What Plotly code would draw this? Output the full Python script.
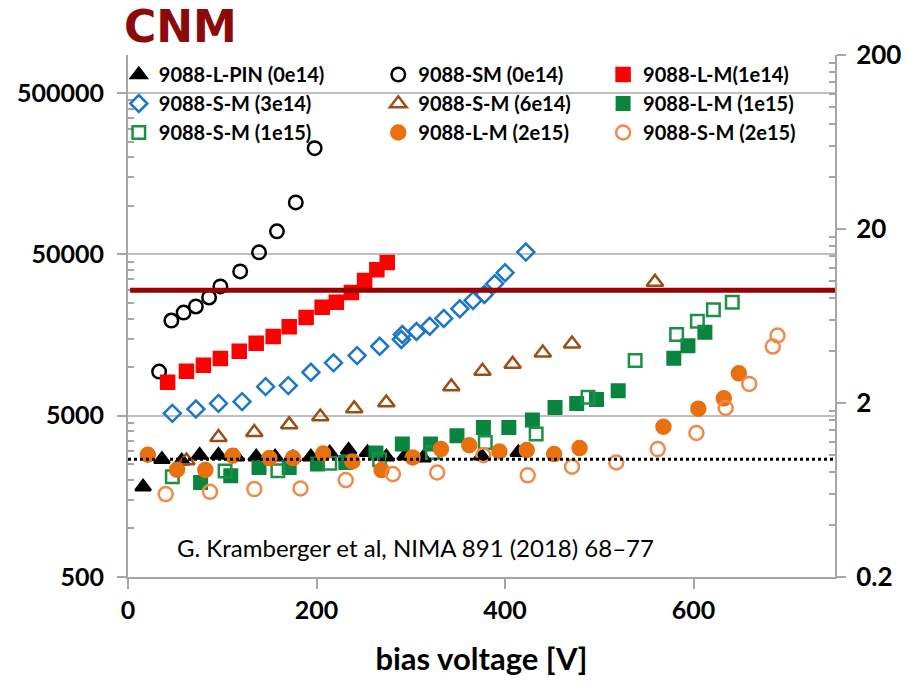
import plotly.graph_objects as go

# ---------------- data (bias voltage [V], left-axis value) ----------------
pin_v = [16, 36, 57, 76, 96, 115, 136, 156, 175, 194, 214, 234, 254, 274, 294, 313, 375, 414]
pin_q = [1811, 2684, 2627, 2850, 2850, 2782, 2782, 2782, 2754, 2782, 2945, 3060, 2958, 2782, 2822, 2742, 2822, 2958]

sm0_v = [33, 46, 59, 72, 86, 98, 119, 139, 158, 178, 198]
sm0_q = [9380, 19450, 21800, 23770, 27030, 31640, 39200, 51500, 69500, 105000, 227600]

lm1e14_v = [42, 62, 80, 98, 118, 136, 154, 171, 189, 206, 221, 237, 251, 264, 275]
lm1e14_q = [8050, 9420, 10270, 11300, 12540, 14060, 15480, 17780, 20300, 23530, 25270, 29030, 34480, 40170, 44600]

sm3e14_v = [47, 72, 96, 121, 146, 170, 194, 218, 243, 267, 290, 291, 306, 320, 335, 352, 366, 378, 389, 400, 422]
sm3e14_q = [5170, 5500, 5960, 6110, 7570, 7680, 9290, 10630, 11790, 13470, 14830, 15930, 16630, 17930,
            20030, 23000, 25890, 28220, 32890, 38480, 51660]

sm6e14_v = [62, 96, 134, 171, 204, 240, 274, 343, 376, 408, 440, 471, 559]
sm6e14_q = [2630, 3670, 3940, 4400, 4930, 5530, 6020, 7570, 9450, 10440, 12260, 13940, 33640]

lm1e15_v = [77, 109, 139, 171, 201, 231, 263, 291, 321, 349, 377, 404, 429, 453, 476, 497, 520, 579, 594, 612]
lm1e15_q = [1930, 2120, 2390, 2390, 2510, 2560, 2940, 3340, 3340, 3760, 4230, 4230, 4700, 5630, 5960, 6310,
            7150, 11350, 13550, 16460]

sm1e15_v = [47, 103, 159, 214, 267, 323, 379, 433, 488, 538, 582, 604, 621, 641]
sm1e15_q = [2090, 2270, 2275, 2535, 2666, 2958, 3412, 3848, 6497, 10980, 15930, 19270, 22670, 25270]

lm2e15_v = [21, 52, 82, 111, 150, 175, 207, 238, 269, 302, 332, 362, 394, 423, 452, 479, 568, 605, 632, 648]
lm2e15_q = [2862, 2310, 2305, 2822, 2730, 2730, 2916, 2601, 2300, 2754, 3105, 3279, 3000, 3060, 2891, 3150,
            4272, 5525, 6405, 9157]

sm2e15_v = [40, 87, 134, 183, 231, 281, 328, 377, 424, 471, 518, 562, 603, 634, 659, 684, 689]
sm2e15_q = [1633, 1686, 1753, 1768, 1994, 2172, 2222, 2842, 2135, 2411, 2564, 3105, 3904, 5580, 7868, 13415, 15700]

red_line_level = 30000      # left axis
dotted_line_level = 0.95    # right axis

left_ticks = [500, 5000, 50000, 500000]
right_ticks = [0.2, 2, 20, 200]
right_ticklabels = ["0.2", "2", "20", "200"]
x_ticks = [0, 200, 400, 600]

# ---------------- styling ----------------
FONT = "Lato"
AX = "#A6A6A6"

series = [
    ("9088-L-PIN (0e14)", pin_v, pin_q, "triangle-up", "#000000", 13.5, "legend"),
    ("9088-SM (0e14)", sm0_v, sm0_q, "circle-open", "#000000", 13.5, "legend2"),
    ("9088-L-M(1e14)", lm1e14_v, lm1e14_q, "square", "#FF0000", 13, "legend3"),
    ("9088-S-M (3e14)", sm3e14_v, sm3e14_q, "diamond-open", "#1B76C9", 13, "legend"),
    ("9088-S-M (6e14)", sm6e14_v, sm6e14_q, "triangle-up-open", "#9E4E14", 14.5, "legend2"),
    ("9088-L-M (1e15)", lm1e15_v, lm1e15_q, "square", "#0A8540", 12.5, "legend3"),
    ("9088-S-M (1e15)", sm1e15_v, sm1e15_q, "square-open", "#1C9146", 12.5, "legend"),
    ("9088-L-M (2e15)", lm2e15_v, lm2e15_q, "circle", "#E8700F", 14, "legend2"),
    ("9088-S-M (2e15)", sm2e15_v, sm2e15_q, "circle-open", "#EF8A4C", 14, "legend3"),
]

fig = go.Figure()
for name, xs, ys, sym, col, size, lg in series:
    fig.add_trace(go.Scatter(
        x=xs, y=ys, mode="markers", name=name, legend=lg,
        marker=dict(symbol=sym, color=col, size=size, line=dict(width=2.5, color=col)),
    ))

# dummy trace to activate the right axis
fig.add_trace(go.Scatter(x=[None], y=[None], yaxis="y2", showlegend=False, hoverinfo="skip"))

minor_left = [t * k for t in left_ticks for k in range(2, 10)]
minor_right = [t * k for t in right_ticks for k in range(2, 10)]

fig.update_layout(
    width=907, height=685,
    margin=dict(l=128, r=72, t=55, b=108, autoexpand=False),
    paper_bgcolor="white", plot_bgcolor="white",
    font=dict(family=FONT, color="#000000"),
    xaxis=dict(
        range=[0, 750], tickvals=x_ticks, showline=True, linecolor=AX, linewidth=2, automargin=False,
        ticks="outside", ticklen=10, tickcolor=AX, tickwidth=1.5, showgrid=False, zeroline=False,
        tickfont=dict(family=FONT, size=25, weight="bold", color="#000000"),
        title=dict(text="bias voltage [V]", font=dict(family=FONT, size=31, weight="bold", color="#000000"), standoff=25),
    ),
    yaxis=dict(
        type="log", range=[2.69897, 5.935], tickvals=left_ticks, ticktext=[str(t) for t in left_ticks],
        showline=True, linecolor=AX, linewidth=2, ticks="outside", ticklen=9, tickcolor=AX, tickwidth=1.5,
        showgrid=True, gridcolor="#BFBFBF", gridwidth=1.5, zeroline=False, ticklabelstandoff=8, automargin=False,
        tickfont=dict(family=FONT, size=25, weight="bold", color="#000000"),
        minor=dict(tickmode="array", tickvals=minor_left, ticks="inside", ticklen=6, tickcolor=AX,
                   tickwidth=1.5, showgrid=False),
    ),
    yaxis2=dict(
        type="log", overlaying="y", side="right", range=[-0.69897, 2.30103],
        tickvals=right_ticks, ticktext=right_ticklabels, automargin=False,
        showline=True, linecolor=AX, linewidth=2, ticks="outside", ticklen=9, tickcolor=AX, tickwidth=1.5,
        showgrid=False, zeroline=False, ticklabelstandoff=5,
        tickfont=dict(family=FONT, size=26, weight="bold", color="#000000"),
        minor=dict(tickmode="array", tickvals=minor_right, ticks="inside", ticklen=6, tickcolor=AX,
                   tickwidth=1.5, showgrid=False),
    ),
    showlegend=True,
)

legend_font = dict(family=FONT, size=20, weight="bold", color="#000000")
for key, xpos in [("legend", -0.013), ("legend2", 0.354), ("legend3", 0.672)]:
    fig.update_layout({key: dict(x=xpos, y=1.0, xanchor="left", yanchor="top", bgcolor="rgba(0,0,0,0)",
                                 font=legend_font, orientation="v", itemwidth=30, tracegroupgap=0)})

fig.add_shape(type="line", xref="paper", x0=0.003, x1=1, yref="y", y0=red_line_level, y1=red_line_level,
              line=dict(color="#990000", width=5))
fig.add_shape(type="line", xref="paper", x0=0, x1=1, yref="y2", y0=dotted_line_level, y1=dotted_line_level,
              line=dict(color="#000000", width=3, dash="dot"))

fig.add_annotation(text="CNM", xref="paper", yref="paper", x=-0.008, y=1.054, xanchor="left", yanchor="middle",
                   showarrow=False, font=dict(family="DejaVu Sans", size=44, weight="bold", color="#8B0A0A"))
fig.add_annotation(text="G. Kramberger et al, NIMA 891 (2018) 68\u201377", xref="paper", yref="paper",
                   x=0.066, y=0.056, xanchor="left", yanchor="middle", showarrow=False,
                   font=dict(family=FONT, size=24, color="#000000"))

fig.write_html("out.html")
